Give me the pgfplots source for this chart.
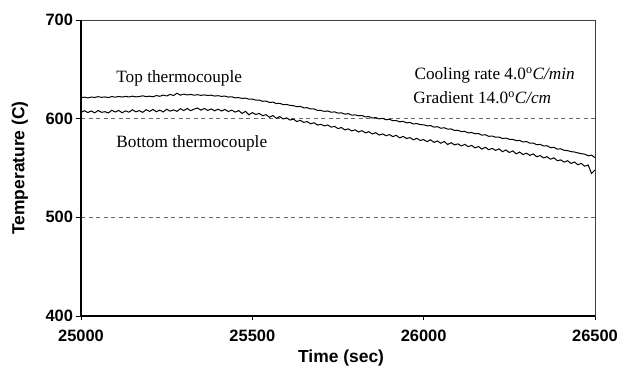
\documentclass[border=0pt]{standalone}
\usepackage{fontspec}
\setmainfont{Liberation Serif}
\newfontfamily\arialf{Liberation Sans}
\usepackage{pgfplots}
\usepackage{pgfplotstable}
\pgfplotsset{compat=1.18}
\pgfplotstableread{
t T
25000 621.2
25010 621.8
25020 621.0
25030 621.9
25040 621.5
25050 622.3
25060 621.6
25070 622.0
25080 621.4
25090 622.4
25100 621.8
25110 622.5
25120 621.9
25130 622.6
25140 622.0
25150 622.8
25160 622.1
25170 622.4
25180 623.2
25190 622.3
25200 622.8
25210 622.2
25220 623.4
25230 622.7
25240 623.9
25250 623.0
25260 624.6
25270 623.4
25280 625.8
25290 623.8
25300 624.9
25310 624.0
25320 624.6
25330 623.8
25340 624.3
25350 623.6
25360 624.1
25370 623.5
25380 623.8
25390 622.9
25400 623.3
25410 622.6
25420 622.9
25430 621.9
25440 622.2
25450 621.1
25460 621.4
25470 620.5
25480 620.8
25490 619.7
25500 619.9
25510 618.8
25520 618.9
25530 617.6
25540 617.9
25550 616.4
25560 616.8
25570 615.3
25580 615.6
25590 614.2
25600 614.4
25610 613.5
25620 613.2
25630 612.1
25640 612.4
25650 611.0
25660 611.1
25670 609.8
25680 609.9
25690 608.4
25700 608.3
25710 607.4
25720 607.8
25730 606.5
25740 606.9
25750 605.6
25760 605.9
25770 604.6
25780 605.1
25790 603.6
25800 603.8
25810 602.9
25820 603.2
25830 601.8
25840 602.1
25850 600.6
25860 601.2
25870 599.7
25880 600.4
25890 598.9
25900 599.3
25910 598.0
25920 598.1
25930 596.8
25940 597.3
25950 595.7
25960 596.2
25970 594.6
25980 595.1
25990 593.9
26000 593.8
26010 592.7
26020 593.0
26030 591.4
26040 591.9
26050 590.3
26060 590.8
26070 589.4
26080 589.6
26090 588.0
26100 588.2
26110 586.9
26120 587.1
26130 585.6
26140 586.0
26150 584.7
26160 584.9
26170 583.3
26180 583.7
26190 582.1
26200 582.4
26210 581.2
26220 581.4
26230 579.9
26240 580.3
26250 579.1
26260 579.0
26270 577.8
26280 577.9
26290 576.4
26300 576.8
26310 575.2
26320 575.3
26330 573.6
26340 573.9
26350 572.3
26360 572.6
26370 570.6
26380 571.0
26390 569.1
26400 569.5
26410 567.9
26420 567.6
26430 566.6
26440 566.2
26450 565.3
26460 564.5
26470 564.1
26480 562.4
26490 563.0
26500 560.5
}\toptc
\pgfplotstableread{
t T
25000 606.5
25010 608.0
25020 606.2
25030 607.8
25040 605.9
25050 608.3
25060 606.4
25070 607.1
25080 605.8
25090 608.5
25100 606.7
25110 608.4
25120 606.0
25130 607.9
25140 606.6
25150 609.0
25160 606.9
25170 608.2
25180 606.4
25190 609.1
25200 607.3
25210 609.3
25220 607.0
25230 608.7
25240 606.8
25250 609.5
25260 607.6
25270 608.9
25280 607.4
25290 610.1
25300 608.2
25310 610.3
25320 608.1
25330 609.6
25340 610.8
25350 608.6
25360 610.4
25370 608.3
25380 609.9
25390 608.0
25400 609.6
25410 607.8
25420 609.3
25430 607.2
25440 608.7
25450 606.6
25460 608.2
25470 605.3
25480 607.4
25490 603.9
25500 606.2
25510 604.2
25520 605.3
25530 603.0
25540 604.1
25550 601.4
25560 603.2
25570 600.4
25580 602.1
25590 599.7
25600 600.8
25610 598.6
25620 599.5
25630 597.1
25640 598.3
25650 596.3
25660 597.0
25670 594.8
25680 595.9
25690 593.5
25700 594.3
25710 592.7
25720 593.6
25730 591.4
25740 592.2
25750 589.9
25760 591.0
25770 588.6
25780 589.7
25790 587.6
25800 588.7
25810 586.5
25820 587.9
25830 585.6
25840 586.8
25850 584.5
25860 585.8
25870 583.4
25880 584.6
25890 582.7
25900 583.9
25910 581.8
25920 583.1
25930 580.6
25940 582.0
25950 579.9
25960 580.8
25970 578.6
25980 580.1
25990 577.9
26000 578.8
26010 576.7
26020 578.6
26030 576.0
26040 577.4
26050 575.1
26060 576.9
26070 573.8
26080 575.7
26090 573.4
26100 574.5
26110 572.3
26120 574.0
26130 571.6
26140 572.9
26150 570.4
26160 571.8
26170 569.1
26180 571.0
26190 568.5
26200 569.9
26210 567.8
26220 569.4
26230 566.5
26240 568.3
26250 565.7
26260 567.4
26270 564.3
26280 566.2
26290 563.6
26300 565.0
26310 562.8
26320 564.3
26330 561.4
26340 562.6
26350 560.2
26360 561.5
26370 558.9
26380 560.3
26390 557.4
26400 558.2
26410 556.0
26420 557.4
26430 554.6
26440 556.1
26450 553.3
26460 554.7
26470 551.8
26480 553.0
26490 544.5
26500 548.0
}\bottc
\begin{document}
\begin{tikzpicture}
\useasboundingbox (0,0) rectangle (629bp,367bp);
\begin{axis}[
  at={(81bp,51bp)}, anchor=south west,
  scale only axis, width=514bp, height=296bp,
  xmin=25000, xmax=26500, ymin=400, ymax=700,
  xtick={25000,25500,26000,26500},
  ytick={400,500,600,700},
  scaled x ticks=false,
  xtick pos=bottom, ytick pos=left,
  tick align=outside, major tick length=4.5bp,
  axis line style={draw=black!75, line width=0.6pt},
  ymajorgrids, major grid style={dash pattern=on 4bp off 3.5bp, black!60, line width=0.7pt},
  tick style={black, line width=0.8pt},
  /pgf/number format/assume math mode=true,
  /pgf/number format/1000 sep={},
  ticklabel style={font=\arialf\bfseries\fontsize{16.5}{19}\selectfont},
  xticklabel style={yshift=-6bp},
  label style={font=\arialf\bfseries\fontsize{17.5}{20}\selectfont},
  xlabel={Time (sec)}, ylabel={Temperature (C)},
  xlabel style={at={(axis description cs:0.506,-0.142)}, anchor=center},
  ylabel style={at={(axis description cs:-0.119,0.5)}, anchor=center},
  clip=false,
]
\addplot[black, line width=1.0pt] table[x=t, y=T] {\toptc};
\addplot[black, line width=1.0pt] table[x=t, y=T] {\bottc};
\draw[black, line width=1.6pt] (rel axis cs:0,1) -- (rel axis cs:0,0) -- (rel axis cs:1,0);
\node[anchor=west, font=\fontsize{17.3}{20}\selectfont] at (axis cs:25093,641) {Top thermocouple};
\node[anchor=west, font=\fontsize{17.3}{20}\selectfont] at (axis cs:25093,575) {Bottom thermocouple};
\node[anchor=west, font=\fontsize{17.3}{20}\selectfont] at (axis cs:25963,644) {Cooling rate 4.0\textsuperscript{o}\textit{C/min}};
\node[anchor=west, font=\fontsize{17.3}{20}\selectfont] at (axis cs:25960,621) {Gradient 14.0\textsuperscript{o}\textit{C/cm}};
\end{axis}
\end{tikzpicture}
\end{document}
